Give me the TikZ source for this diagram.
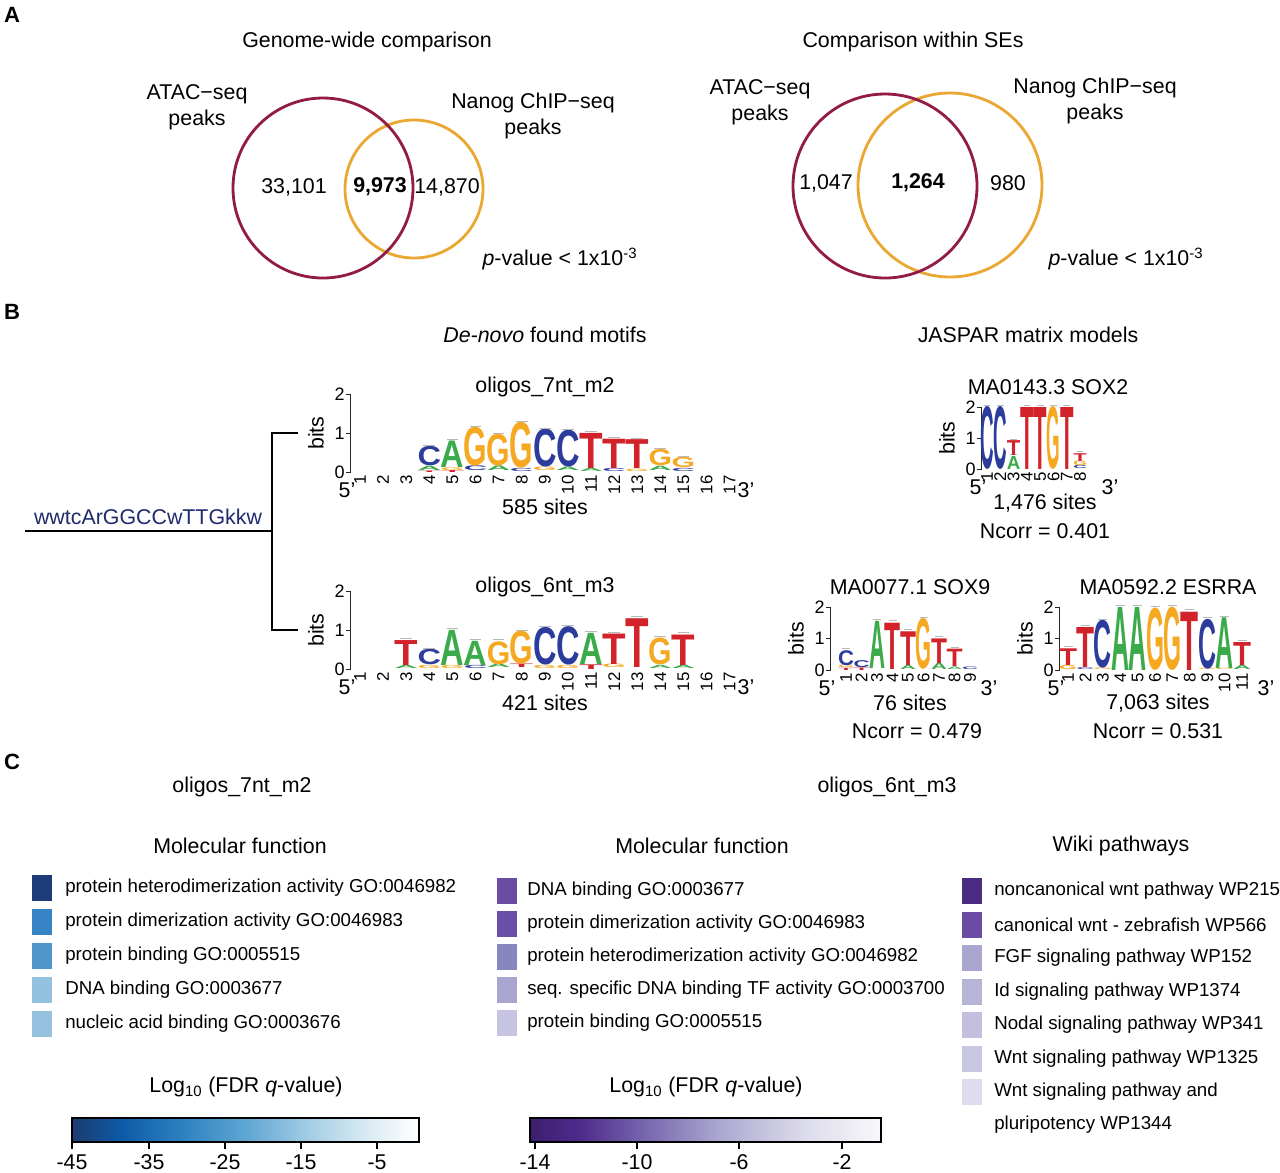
\documentclass[tikz,border=0pt]{standalone}
\usepackage{fontspec}
\setmainfont{Liberation Sans}
\usepackage{graphicx}

\definecolor{atac}{HTML}{921C46}
\definecolor{nanog}{HTML}{EAA731}
\definecolor{nucA}{HTML}{3BAA4A}
\definecolor{nucC}{HTML}{2B3C9C}
\definecolor{nucG}{HTML}{F6A821}
\definecolor{nucT}{HTML}{D2232A}
\definecolor{seqnavy}{HTML}{1F2B6B}
% legend squares
\definecolor{b1}{HTML}{1E3C7A}
\definecolor{b2}{HTML}{3583C4}
\definecolor{b3}{HTML}{4F97CB}
\definecolor{b4}{HTML}{92C2E0}
\definecolor{b5}{HTML}{95C3DF}
\definecolor{p1}{HTML}{6A4CA5}
\definecolor{p2}{HTML}{6B4EA7}
\definecolor{p3}{HTML}{8886BF}
\definecolor{p4}{HTML}{A8A6D0}
\definecolor{p5}{HTML}{C6C4E2}
\definecolor{w1}{HTML}{4A2C83}
\definecolor{w2}{HTML}{6B4CA5}
\definecolor{w3}{HTML}{A9A7CF}
\definecolor{w4}{HTML}{B6B4D7}
\definecolor{w5}{HTML}{C2C0DE}
\definecolor{w6}{HTML}{C9C8E3}
\definecolor{w7}{HTML}{DDDCEC}
% colour bars
\definecolor{cb0}{HTML}{1D3B6E}
\definecolor{cb1}{HTML}{0C5AA6}
\definecolor{cb2}{HTML}{3286C3}
\definecolor{cb3}{HTML}{5FA6D3}
\definecolor{cb4}{HTML}{AAD0E6}
\definecolor{cb5}{HTML}{DDECF5}
\definecolor{cp0}{HTML}{3C1F6E}
\definecolor{cp1}{HTML}{4E2A8C}
\definecolor{cp2}{HTML}{7A6AB0}
\definecolor{cp3}{HTML}{ABA8D0}
\definecolor{cp4}{HTML}{DCDBEB}
\definecolor{cp5}{HTML}{F8F8FA}
\pgfdeclarehorizontalshading{bluebar}{100bp}{color(0bp)=(cb0); color(25bp)=(cb0);
  color(32bp)=(cb1); color(42bp)=(cb2); color(50bp)=(cb3); color(60bp)=(cb4);
  color(68bp)=(cb5); color(75bp)=(white); color(100bp)=(white)}
\pgfdeclarehorizontalshading{purplebar}{100bp}{color(0bp)=(cp0); color(25bp)=(cp0);
  color(32bp)=(cp1); color(42bp)=(cp2); color(52bp)=(cp3); color(64bp)=(cp4);
  color(75bp)=(cp5); color(100bp)=(cp5)}

\newlength\pxu
\setlength\pxu{0.025cm}
\newcommand\fbig{\fontsize{15.2pt}{18.5pt}\selectfont}
\newcommand\fmid{\fontsize{13.3pt}{16pt}\selectfont}
\newcommand\lgA{\textcolor{nucA}{A}}
\newcommand\lgC{\textcolor{nucC}{C}}
\newcommand\lgG{\textcolor{nucG}{G}}
\newcommand\lgT{\textcolor{nucT}{T}}

% #1 name, #2 axis x, #3 zero line, #4 px per bit, #5 first column, #6 column step, #7 columns, #8 3' x
\newcommand\logoaxes[8]{%
  \draw[logoaxis] ({#2-4},#3) -- (#2,#3) -- (#2,{#3-2*#4}) -- ({#2-4},{#3-2*#4});
  \draw[logoaxis] ({#2-4},{#3-#4}) -- (#2,{#3-#4});
  \foreach \k in {0,1,2}{\node[ticklab] (#1-y\k) at ({#2-5},{#3-\k*#4}) {\k};}
  \node[lab, rotate=90] (#1-bits) at ({#2-34},{#3-#4}) {bits};
  \foreach \k in {1,...,#7}{\node[poslab] (#1-p\k) at ({#5+(\k-1)*#6},{#3+3}) {\k};}
  \node[lab] (#1-five) at ({#2-3},{#3+18}) {5'};
  \node[lab] (#1-three) at (#8,{#3+18}) {3'};
}
% #1 name, #2 first column, #3 column step, #4 zero line, #5 px per bit, #6 letter width, #7 column/letter/from/to
\newcommand\logoletters[7]{%
  \foreach \c/\l/\lo/\hi in {#7}{%
    \pgfmathsetmacro\hh{(\hi-\lo)*#5}%
    \pgfmathtruncatemacro\hascap{\hi>0.3}%
    \node[letter] (#1-\c\l) at ({#2+(\c-1)*#3},{#4-\lo*#5})
      {\resizebox{#6\pxu}{\hh\pxu}{\csname lg\l\endcsname}};
    \ifnum\hascap=1
      \draw[errcap] ({#2+(\c-1)*#3-0.25*#6},{#4-\hi*#5-2}) -- ({#2+(\c-1)*#3+0.25*#6},{#4-\hi*#5-2});
    \fi
  }}

\begin{document}
\begin{tikzpicture}[x=0.025cm, y=-0.025cm,
    lab/.style={font=\fbig, inner sep=0, align=center},
    panel/.style={font=\fontsize{15.7pt}{18pt}\selectfont\bfseries, inner sep=0},
    item/.style={font=\fmid, anchor=west, inner sep=0},
    sq/.style={minimum width=20\pxu, minimum height=26\pxu, inner sep=0, outer sep=0},
    letter/.style={anchor=south, inner sep=0, outer sep=0, font=\bfseries},
    errcap/.style={line width=0.4pt, gray!55},
    logoaxis/.style={line width=0.6pt, black!85},
    ticklab/.style={anchor=east, inner sep=0, font=\fontsize{12.8pt}{14pt}\selectfont},
    poslab/.style={rotate=90, anchor=east, inner sep=0, font=\fontsize{12pt}{14pt}\selectfont},
    venn/.style={line width=2pt},
    bartick/.style={line width=1pt}]
  \fill[white] (0,0) rectangle (1280,1172);
  \useasboundingbox (0,0) rectangle (1280,1172);

  % A
  \node[panel] (pA) at (12,15) {A};
  \node[lab] (gw) at (367,42) {Genome-wide comparison};
  \node[lab] (se) at (913,42) {Comparison within SEs};

  \draw[venn, nanog] (414,189) circle[radius=69];
  \draw[venn, atac] (323,188) circle[radius=90];
  \node[lab] (atac1) at (197,107) {ATAC−seq\\peaks};
  \node[lab] (nanog1) at (533,116) {Nanog ChIP−seq\\peaks};
  \node[lab] (n1) at (294,187) {33,101};
  \node[lab, font=\fbig\bfseries] (n2) at (380,187) {9,973};
  \node[lab] (n3) at (447,187) {14,870};
  \node[lab] (pv1) at (560,259) {\textit{p}-value < 1x10\textsuperscript{-3}};

  \draw[venn, nanog] (950,185) circle[radius=92];
  \draw[venn, atac] (885,186) circle[radius=92];
  \node[lab] (atac2) at (760,102) {ATAC−seq\\peaks};
  \node[lab] (nanog2) at (1095,101) {Nanog ChIP−seq\\peaks};
  \node[lab] (n4) at (826,183) {1,047};
  \node[lab, font=\fbig\bfseries] (n5) at (918,183) {1,264};
  \node[lab] (n6) at (1008,183) {980};
  \node[lab] (pv2) at (1126,259) {\textit{p}-value < 1x10\textsuperscript{-3}};

  % B
  \node[panel] (pB) at (12,312) {B};
  \node[lab] (denovo) at (545,335) {\textit{De-novo} found motifs};
  \node[lab] (jaspar) at (1028,335) {JASPAR matrix models};

  \node[lab, text=seqnavy] (seq) at (148,517) {wwtcArGGCCwTTGkkw};
  \coordinate (root) at (25,531);
  \coordinate (fork) at (272,531);
  \coordinate (br1) at (298,433);
  \coordinate (br2) at (298,630);
  \draw[line width=1pt] (root) -- (fork);
  \draw[line width=1pt] (br1) -| (fork) |- (br2);

  \node[lab] (t7nt) at (545,387) {oligos\_7nt\_m2};
  \logoaxes{m2}{350}{472}{39}{360}{23.1}{17}{746}
  \logoletters{m2}{360}{23.1}{472}{39}{23.5}{4/T/0/0.04, 4/A/0.04/0.15, 4/C/0.15/0.64,
    5/T/0/0.05, 5/G/0.05/0.12, 5/A/0.12/0.80, 6/C/0.03/0.15, 6/G/0.15/1.13,
    7/A/0.03/0.15, 7/G/0.15/0.95, 8/C/0.02/0.10, 8/G/0.10/1.26, 9/G/0.03/0.12, 9/C/0.12/1.08,
    10/A/0.03/0.12, 10/C/0.12/1.05, 11/A/0.02/0.10, 11/T/0.10/1.00, 12/C/0.02/0.10, 12/T/0.10/0.85,
    13/G/0.02/0.08, 13/T/0.08/0.82, 14/A/0.04/0.15, 14/G/0.15/0.56, 15/C/0.02/0.10, 15/G/0.10/0.36}
  \node[lab] (s7nt) at (545,507) {585 sites};

  \node[lab] (t6nt) at (545,587) {oligos\_6nt\_m3};
  \logoaxes{m3}{350}{669}{39}{360}{23.1}{17}{746}
  \logoletters{m3}{360}{23.1}{669}{39}{23.5}{3/A/0.02/0.10, 3/T/0.10/0.74, 4/G/0.02/0.10, 4/C/0.10/0.49,
    5/G/0.02/0.10, 5/A/0.10/1.00, 6/C/0.02/0.10, 6/A/0.10/0.72, 7/A/0.03/0.12, 7/G/0.12/0.70,
    8/T/0.03/0.12, 8/G/0.12/0.95, 9/G/0.02/0.10, 9/C/0.10/1.05, 10/G/0.02/0.10, 10/C/0.10/1.07,
    11/T/0/0.12, 11/A/0.12/0.92, 12/G/0.03/0.12, 12/T/0.12/0.90, 13/T/0.05/1.30,
    14/A/0.02/0.10, 14/G/0.10/0.78, 15/A/0.02/0.10, 15/T/0.10/0.88}
  \node[lab] (s6nt) at (545,703) {421 sites};

  \node[lab] (tsox2) at (1048,387) {MA0143.3 SOX2};
  \logoaxes{sox2}{981}{469}{31}{987}{13.3}{8}{1110}
  \logoletters{sox2}{987}{13.3}{469}{31}{13.5}{1/C/0/2, 2/C/0/2, 3/A/0/0.42, 3/T/0.42/0.90,
    4/T/0/2, 5/T/0/2, 6/G/0/2, 7/T/0/2, 8/C/0/0.10, 8/G/0.10/0.25, 8/T/0.25/0.50}
  \node[lab] (ssox2) at (1045,503) {1,476 sites};
  \node[lab] (csox2) at (1045,531) {Ncorr = 0.401};

  \node[lab] (tsox9) at (910,587) {MA0077.1 SOX9};
  \logoaxes{sox9}{830}{670}{31.5}{846}{15.5}{9}{989}
  \logoletters{sox9}{846}{15.5}{670}{31.5}{16}{1/T/0/0.07, 1/G/0.07/0.15, 1/C/0.15/0.62,
    2/T/0/0.08, 2/C/0.08/0.30, 3/A/0.05/1.55, 4/T/0.03/1.50, 5/A/0.02/0.15, 5/T/0.15/1.22,
    6/G/0.03/1.62, 7/A/0.02/0.22, 7/T/0.22/1.00, 8/A/0.02/0.10, 8/T/0.10/0.65, 9/C/0.02/0.10}
  \node[lab] (ssox9) at (910,703) {76 sites};
  \node[lab] (csox9) at (917,731) {Ncorr = 0.479};

  \node[lab] (tesrra) at (1168,587) {MA0592.2 ESRRA};
  \logoaxes{esrra}{1059}{670}{31.5}{1068}{17.4}{11}{1266}
  \logoletters{esrra}{1068}{17.4}{670}{31.5}{18}{1/G/0.02/0.15, 1/T/0.15/0.68, 2/C/0.02/0.08,
    2/T/0.08/1.35, 3/G/0/0.05, 3/C/0.05/1.55, 4/A/0/2, 5/A/0/2, 6/G/0/1.95, 7/G/0/1.98,
    8/T/0/1.85, 9/G/0/0.04, 9/C/0.04/1.60, 10/G/0/0.04, 10/A/0.04/1.65, 11/A/0.02/0.15, 11/T/0.15/0.88}
  \node[lab] (sesrra) at (1158,703) {7,063 sites};
  \node[lab] (cesrra) at (1158,731) {Ncorr = 0.531};

  % C
  \node[panel] (pC) at (12,762) {C};
  \node[lab] (g7nt) at (242,787) {oligos\_7nt\_m2};
  \node[lab] (g6nt) at (887,787) {oligos\_6nt\_m3};
  \node[lab] (mf1) at (240,846) {Molecular function};
  \node[lab] (mf2) at (702,846) {Molecular function};
  \node[lab] (wiki) at (1121,846) {Wiki pathways};

  \foreach \i/\c/\t in {1/b1/{protein heterodimerization activity GO:0046982},
      2/b2/{protein dimerization activity GO:0046983}, 3/b3/{protein binding GO:0005515},
      4/b4/{DNA binding GO:0003677}, 5/b5/{nucleic acid binding GO:0003676}}{
    \node[sq, fill=\c] (sqa\i) at (42,{888+(\i-1)*34}) {};
    \node[item] (ita\i) at (65,{888+(\i-1)*34}) {\t};
  }
  \foreach \i/\c/\t in {1/p1/{DNA binding GO:0003677}, 2/p2/{protein dimerization activity GO:0046983},
      3/p3/{protein heterodimerization activity GO:0046982},
      4/p4/{seq. specific DNA binding TF activity GO:0003700}, 5/p5/{protein binding GO:0005515}}{
    \node[sq, fill=\c] (sqb\i) at (507,{891+(\i-1)*33}) {};
    \node[item] (itb\i) at (527,{891+(\i-1)*33}) {\t};
  }
  \foreach \i/\c/\t in {1/w1/{noncanonical wnt pathway WP215}, 2/w2/{canonical wnt - zebrafish WP566},
      3/w3/{FGF signaling pathway WP152}, 4/w4/{Id signaling pathway WP1374},
      5/w5/{Nodal signaling pathway WP341}, 6/w6/{Wnt signaling pathway WP1325},
      7/w7/{Wnt signaling pathway and}}{
    \node[sq, fill=\c] (sqc\i) at (972,{891+(\i-1)*33.5}) {};
    \node[item] (itc\i) at (994,{891+(\i-1)*33.5}) {\t};
  }
  \node[item] (itc7b) at (994,1125) {pluripotency WP1344};

  % colour bars
  \node[lab] (lg1) at (246,1087) {Log\textsubscript{10} (FDR \textit{q}-value)};
  \shade[shading=bluebar] (72,1118) rectangle (419,1142);
  \draw[line width=1.3pt] (72,1118) rectangle (419,1142);
  \foreach \x/\v in {72/-45,149/-35,225/-25,301/-15,377/-5}{
    \draw[bartick] (\x,1142) -- (\x,1149);
    \node[lab] (cba\v) at (\x,1162) {\v};
  }
  \node[lab] (lg2) at (706,1087) {Log\textsubscript{10} (FDR \textit{q}-value)};
  \shade[shading=purplebar] (530,1118) rectangle (881,1142);
  \draw[line width=1.3pt] (530,1118) rectangle (881,1142);
  \foreach \x/\v in {535/-14,637/-10,739/-6,842/-2}{
    \draw[bartick] (\x,1142) -- (\x,1149);
    \node[lab] (cbb\v) at (\x,1162) {\v};
  }
\end{tikzpicture}
\end{document}
